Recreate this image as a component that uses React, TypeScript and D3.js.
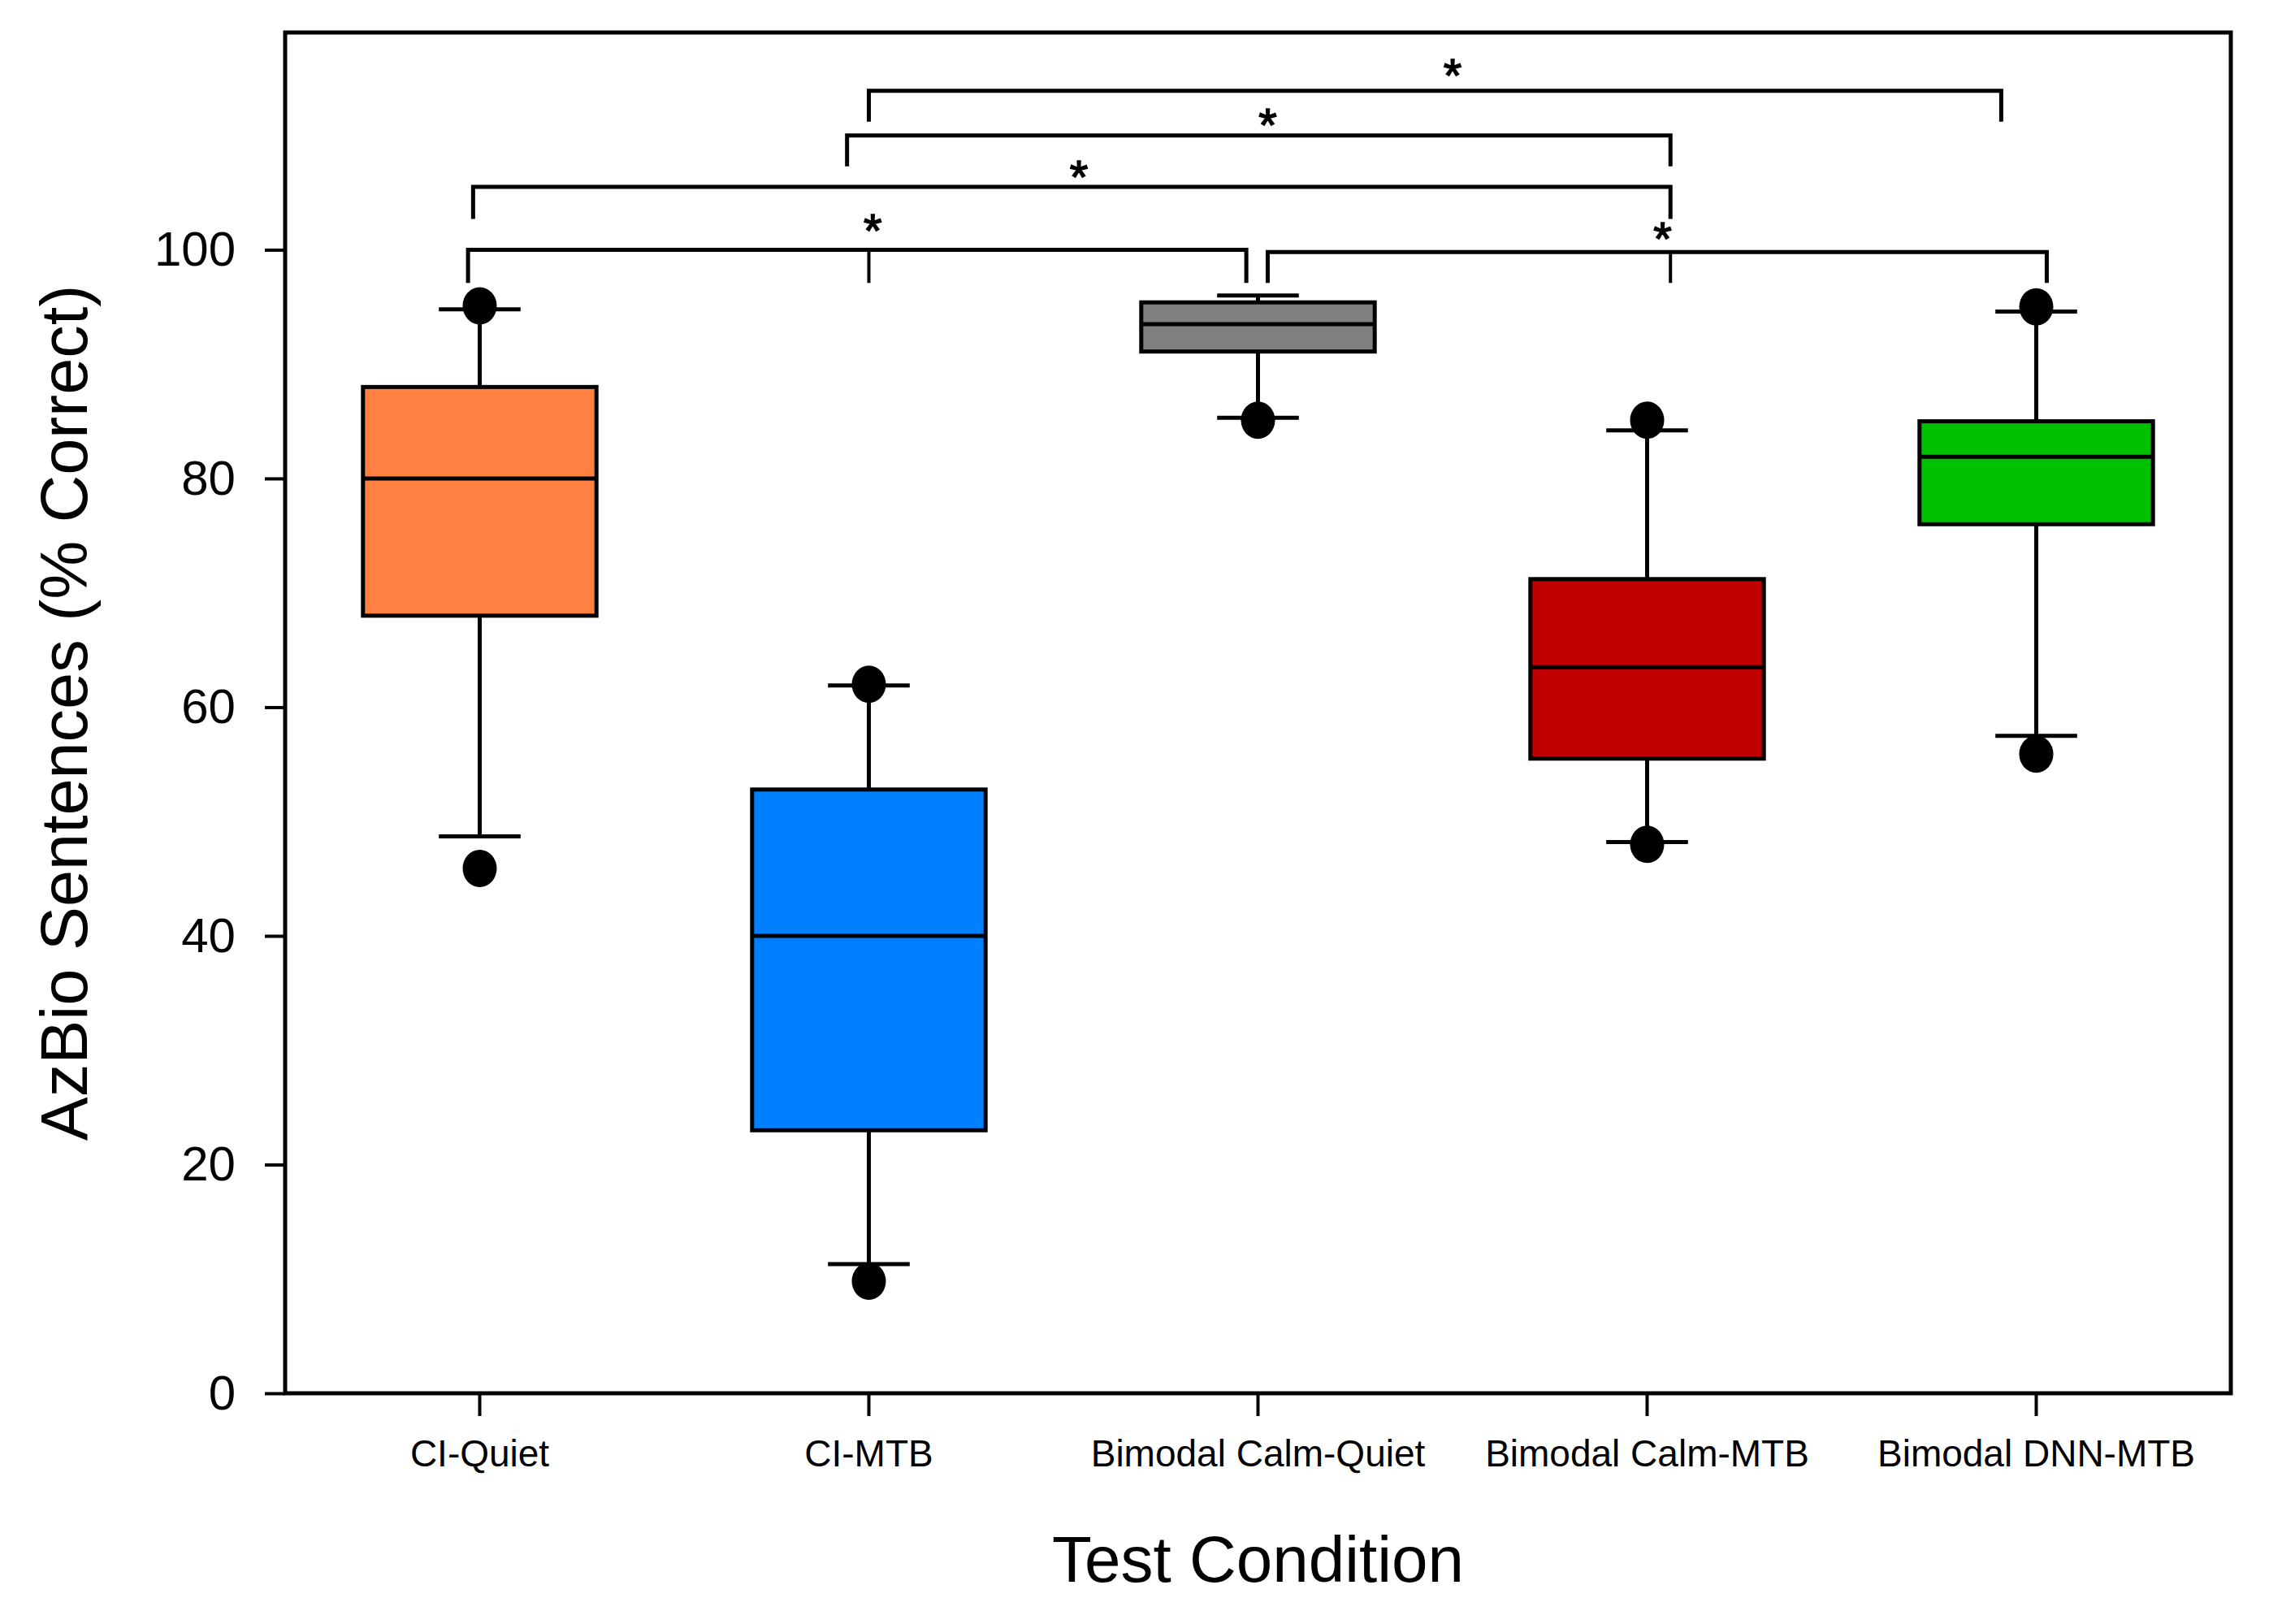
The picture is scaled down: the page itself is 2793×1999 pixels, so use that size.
import { useEffect, useRef } from 'react'
import * as d3 from 'd3'

const categories = ['CI-Quiet', 'CI-MTB', 'Bimodal Calm-Quiet', 'Bimodal Calm-MTB', 'Bimodal DNN-MTB']
const fills = ['#FF8040', '#0080FF', '#808080', '#C00000', '#00C000']

// box-plot statistics per condition (% correct)
const q1 = [68.0, 23.0, 91.1, 55.5, 76.0]
const median = [80.0, 40.0, 93.5, 63.5, 81.9]
const q3 = [88.0, 52.8, 95.4, 71.2, 85.0]
const whiskerLow = [48.7, 11.3, 85.3, 48.2, 57.5]
const whiskerHigh = [94.8, 61.9, 96.0, 84.2, 94.6]
const outlierLow = [45.9, 9.8, 85.1, 48.0, 55.9]
const outlierHigh: (number | null)[] = [95.1, 62.0, null, 85.1, 95.0]

const yTicks = [0, 20, 40, 60, 80, 100]

// significance brackets, x in category-index units
const bracketFrom = [-0.03, 2.025, -0.017, 0.944, 1.0]
const bracketTo = [1.97, 4.027, 3.06, 3.06, 3.91]
const bracketY = [100.0, 99.8, 105.5, 110.0, 113.9]
const bracketLegEnd = [97.1, 97.1, 102.7, 107.3, 111.2]
const bracketMid: (number | null)[] = [1.0, 3.06, null, null, null]
const starX = [1.01, 3.04, 1.54, 2.025, 2.5]
const starY = [102.1, 101.4, 106.8, 111.35, 115.7]

const W = 2793
const H = 1999
const FONT = '"Liberation Sans", Arial, Helvetica, sans-serif'

export default function App() {
  const svgRef = useRef<SVGSVGElement>(null)

  useEffect(() => {
    const svg = svgRef.current
    if (!svg) return
    d3.select(svg).selectAll('*').remove()

    const left = 351, right = 2746, top = 40, bottom = 1715
    const root = d3.select(svg).attr('width', W).attr('height', H)
    root.append('rect').attr('width', W).attr('height', H).attr('fill', '#fff')

    const x = d3.scaleBand().domain(categories).range([left, right])
    const xi = d3.scaleLinear().domain([-0.5, categories.length - 0.5]).range([left, right])
    const y = d3.scaleLinear().domain([0, 119]).range([bottom, top])

    const boxW = x.step() * 0.6
    const capW = x.step() * 0.21

    const g = root.append('g')

    categories.forEach((c, i) => {
      const mx = xi(i)
      // whiskers
      g.append('line').attr('x1', mx).attr('x2', mx)
        .attr('y1', y(q3[i])).attr('y2', y(whiskerHigh[i]))
        .attr('stroke', '#000').attr('stroke-width', 5)
      g.append('line').attr('x1', mx).attr('x2', mx)
        .attr('y1', y(q1[i])).attr('y2', y(whiskerLow[i]))
        .attr('stroke', '#000').attr('stroke-width', 5)
      ;[whiskerHigh[i], whiskerLow[i]].forEach(v => {
        g.append('line').attr('x1', mx - capW / 2).attr('x2', mx + capW / 2)
          .attr('y1', y(v)).attr('y2', y(v))
          .attr('stroke', '#000').attr('stroke-width', 5)
      })
      // box
      g.append('rect')
        .attr('x', mx - boxW / 2).attr('width', boxW)
        .attr('y', y(q3[i])).attr('height', y(q1[i]) - y(q3[i]))
        .attr('fill', fills[i]).attr('stroke', '#000').attr('stroke-width', 5)
      g.append('line').attr('x1', mx - boxW / 2).attr('x2', mx + boxW / 2)
        .attr('y1', y(median[i])).attr('y2', y(median[i]))
        .attr('stroke', '#000').attr('stroke-width', 5)
      // outliers
      ;[outlierHigh[i], outlierLow[i]].forEach(v => {
        if (v == null) return
        g.append('ellipse').attr('cx', mx).attr('cy', y(v))
          .attr('rx', 21).attr('ry', 23).attr('fill', '#000')
      })
    })

    // brackets
    const bg = root.append('g').attr('fill', 'none').attr('stroke', '#000').attr('stroke-width', 5)
    bracketY.forEach((by, i) => {
      const path = d3.path()
      path.moveTo(xi(bracketFrom[i]), y(bracketLegEnd[i]))
      path.lineTo(xi(bracketFrom[i]), y(by))
      path.lineTo(xi(bracketTo[i]), y(by))
      path.lineTo(xi(bracketTo[i]), y(bracketLegEnd[i]))
      bg.append('path').attr('d', path.toString()).attr('stroke-linejoin', 'miter')
      const m = bracketMid[i]
      if (m != null) {
        bg.append('line').attr('x1', xi(m)).attr('x2', xi(m))
          .attr('y1', y(by)).attr('y2', y(bracketLegEnd[i])).attr('stroke-width', 4)
      }
      const fs = 58
      root.append('text')
        .attr('x', xi(starX[i])).attr('y', y(starY[i]) + fs * 0.45)
        .attr('text-anchor', 'middle').attr('font-family', FONT).attr('font-size', fs)
        .attr('fill', '#000').attr('stroke', '#000').attr('stroke-width', 1.5).text('*')
    })

    // axes
    const yAxis = root.append('g').attr('transform', `translate(${left},0)`)
      .call(d3.axisLeft(y).tickValues(yTicks).tickSize(25).tickPadding(36).tickSizeOuter(0))
    yAxis.select('.domain').remove()
    yAxis.selectAll('line').attr('stroke', '#000').attr('stroke-width', 4)
    yAxis.selectAll('text').attr('font-family', FONT).attr('font-size', 60).attr('fill', '#000')

    const xAxis = root.append('g').attr('transform', `translate(0,${bottom})`)
      .call(d3.axisBottom(x).tickSize(28).tickPadding(29).tickSizeOuter(0))
    xAxis.select('.domain').remove()
    xAxis.selectAll('line').attr('stroke', '#000').attr('stroke-width', 4)
    xAxis.selectAll('text').attr('font-family', FONT).attr('font-size', 46).attr('fill', '#000')

    // frame
    root.append('rect')
      .attr('x', left).attr('y', top).attr('width', right - left).attr('height', bottom - top)
      .attr('fill', 'none').attr('stroke', '#000').attr('stroke-width', 5)

    // titles
    root.append('text')
      .attr('transform', `translate(107,${(top + bottom) / 2}) rotate(-90)`)
      .attr('text-anchor', 'middle').attr('font-family', FONT).attr('font-size', 81)
      .attr('fill', '#000').text('AzBio Sentences (% Correct)')
    root.append('text')
      .attr('x', (left + right) / 2).attr('y', 1947)
      .attr('text-anchor', 'middle').attr('font-family', FONT).attr('font-size', 80)
      .attr('fill', '#000').text('Test Condition')
  }, [])

  return <svg ref={svgRef} style={{ position: 'absolute', left: 0, top: 0, display: 'block' }} />
}
